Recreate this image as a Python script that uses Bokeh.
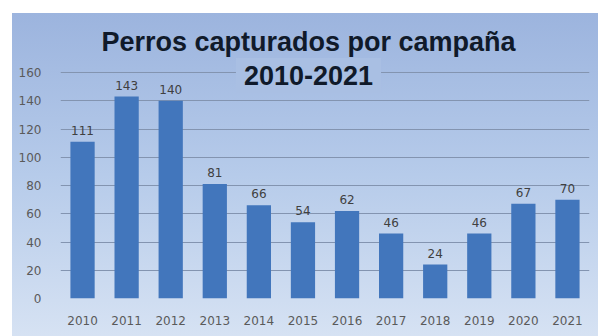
from bokeh.plotting import figure
from bokeh.models import ColumnDataSource, Range1d, FixedTicker, Label
from bokeh.core.properties import value
from bokeh.embed import file_html
from bokeh.resources import INLINE

years = ["2010", "2011", "2012", "2013", "2014", "2015", "2016", "2017", "2018", "2019", "2020", "2021"]
perros = [111, 143, 140, 81, 66, 54, 62, 46, 24, 46, 67, 70]
y_ticks = [0, 20, 40, 60, 80, 100, 120, 140, 160]
title_line1 = "Perros capturados por campaña"
title_line2 = "2010-2021"

source = ColumnDataSource(data=dict(x=years, top=perros, label=[str(v) for v in perros]))

# frame extends to the top of the figure so the title labels are not clipped;
# the 160 gridline then sits 59px below the frame top (285px frame vs 226px for 0-160)
p = figure(x_range=years, y_range=Range1d(0, 160 * 285 / 226), width=586, height=323,
           output_backend="svg", toolbar_location=None, title=None,
           min_border_left=48, min_border_right=9, min_border_top=0, min_border_bottom=38)
p.margin = (13, 0, 0, 12)
p.styles = {"background": "linear-gradient(to bottom, #9cb4de 0%, #b6cbea 50%, #d6e2f3 100%)"}
p.background_fill_alpha = 0
p.border_fill_alpha = 0
p.outline_line_color = None

p.vbar(x="x", top="top", width=0.55, source=source, fill_color="#4276bc", line_color=None)
p.text(x="x", y="top", text="label", source=source, text_align="center", text_baseline="bottom",
       y_offset=-7, text_font=value("DejaVu Sans"), text_font_size="12px", text_color="#404040")

p.yaxis.ticker = FixedTicker(ticks=y_ticks)
for ax in (p.xaxis[0], p.yaxis[0]):
    ax.axis_line_color = None
    ax.major_tick_line_color = None
    ax.minor_tick_line_color = None
    ax.major_label_text_font = "DejaVu Sans"
    ax.major_label_text_font_size = "12px"
    ax.major_label_text_color = "#5a5a5a"
p.yaxis.major_label_standoff = 13
p.xaxis.major_label_standoff = 11

p.xgrid.grid_line_color = None
p.ygrid.grid_line_color = "#8394b0"
p.ygrid.grid_line_width = 1

t1 = Label(x=248, y=257, x_units="screen", y_units="screen", text=title_line1,
           text_align="center", text_baseline="alphabetic", text_font="Liberation Sans",
           text_font_style="bold", text_font_size="27px", text_color="#101a2a")
t2 = Label(x=248, y=223, x_units="screen", y_units="screen", text=title_line2,
           text_align="center", text_baseline="alphabetic", text_font="Liberation Sans",
           text_font_style="bold", text_font_size="27px", text_color="#101a2a",
           background_fill_color="#a9bfe3", padding=8)
p.add_layout(t1)
p.add_layout(t2)

open("out.html", "w").write(file_html(p, INLINE))
